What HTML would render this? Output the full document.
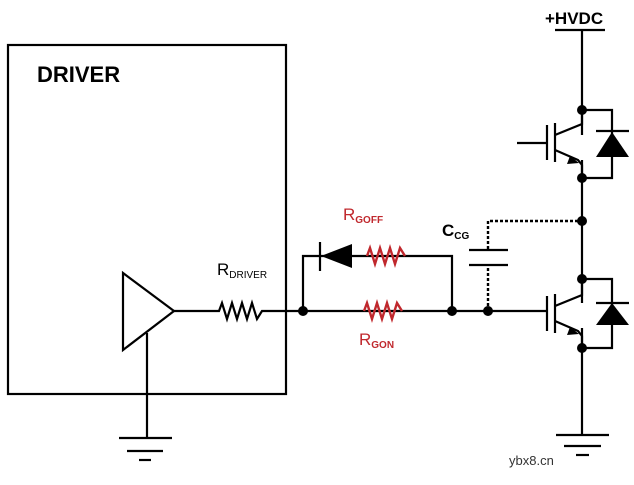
<!DOCTYPE html>
<html><head><meta charset="utf-8"><style>body{margin:0;background:#fff}svg{display:block}text{font-family:"Liberation Sans",sans-serif}</style></head><body>
<svg width="634" height="485" viewBox="0 0 634 485" xmlns="http://www.w3.org/2000/svg">
<g fill="none" stroke="#000" stroke-width="2.2">
<rect x="8" y="45" width="278" height="349"/>
<polygon points="123,273 123,350 174,311"/>
<line x1="147" y1="333" x2="147" y2="438"/>
<line x1="119" y1="438" x2="172" y2="438"/>
<line x1="127" y1="451" x2="163" y2="451"/>
<line x1="139" y1="460" x2="151" y2="460"/>
<polyline points="174,311 219,311 222,303 227,319 232,303 237,319 242,303 247,319 252,303 257,319 262,311 548,311"/>
<polyline points="303,311 303,256 452,256 452,311"/>
<line x1="320" y1="242" x2="320" y2="271"/>
<line x1="469" y1="250" x2="508" y2="250"/>
<line x1="469" y1="265" x2="508" y2="265"/>
<line x1="555" y1="30" x2="605" y2="30"/>
<line x1="582" y1="30" x2="582" y2="135"/>
<line x1="582" y1="160" x2="582" y2="303"/>
<line x1="582" y1="328" x2="582" y2="435"/>
<line x1="556" y1="435" x2="609" y2="435"/>
<line x1="564" y1="446" x2="601" y2="446"/>
<line x1="576" y1="455" x2="589" y2="455"/>
<g>
<line x1="517" y1="143" x2="547" y2="143"/>
<line x1="547" y1="125" x2="547" y2="160"/>
<line x1="555" y1="123" x2="555" y2="162"/>
<polyline points="555,135 582,124 582,110"/>
<polyline points="555,150 578,160 582,165 582,178"/>
<polyline points="582,110 612,110 612,178 582,178"/>
<line x1="596" y1="131" x2="629" y2="131"/>
</g>
<g transform="translate(0,190)">
<line x1="547" y1="106" x2="547" y2="141"/>
<line x1="555" y1="104" x2="555" y2="143"/>
<polyline points="555,116 582,105 582,89"/>
<polyline points="555,131 578,141 582,146 582,158"/>
<polyline points="582,89 612,89 612,158 582,158"/>
<line x1="596" y1="113" x2="629" y2="113"/>
</g>
</g>
<g fill="none" stroke="#c0282d" stroke-width="2.4">
<polyline points="367,256 370,248 375,264 380,248 385,264 390,248 395,264 400,248 405,256"/>
<polyline points="364,311 367,303 372,319 377,303 382,319 387,303 392,319 397,303 402,311"/>
</g>
<g stroke="#000" stroke-width="2.4" stroke-dasharray="3,2" fill="none">
<polyline points="488,311 488,266"/><polyline points="488,249 488,221 580,221"/>
</g>
<g fill="#000">
<polygon points="321,256 352,244 352,268"/>
<polygon points="612,132 596,157 629,157"/>
<polygon points="612,303 596,325 629,325"/>
<polygon points="570,156 579,163 567,164"/>
<polygon points="570,327 579,334 567,335"/>
<circle cx="303" cy="311" r="5"/><circle cx="452" cy="311" r="5"/><circle cx="488" cy="311" r="5"/>
<circle cx="582" cy="110" r="5"/><circle cx="582" cy="178" r="5"/><circle cx="582" cy="221" r="5"/>
<circle cx="582" cy="279" r="5"/><circle cx="582" cy="348" r="5"/>
</g>
<text x="37" y="82" font-size="22" font-weight="bold">DRIVER</text>
<text x="545" y="24" font-size="17" font-weight="bold">+HVDC</text>
<text x="217" y="275" font-size="17">R<tspan font-size="10" dy="3">DRIVER</tspan></text>
<text x="343" y="220" font-size="17" fill="#c0282d">R<tspan font-size="10" dy="3" font-weight="bold">GOFF</tspan></text>
<text x="359" y="345" font-size="17" fill="#c0282d">R<tspan font-size="10" dy="3" font-weight="bold">GON</tspan></text>
<text x="442" y="236" font-size="17" font-weight="bold">C<tspan font-size="10" dy="3">CG</tspan></text>
<text x="509" y="465" font-size="13" fill="#333" font-family="Liberation Mono">ybx8.cn</text>
</svg>
</body></html>
